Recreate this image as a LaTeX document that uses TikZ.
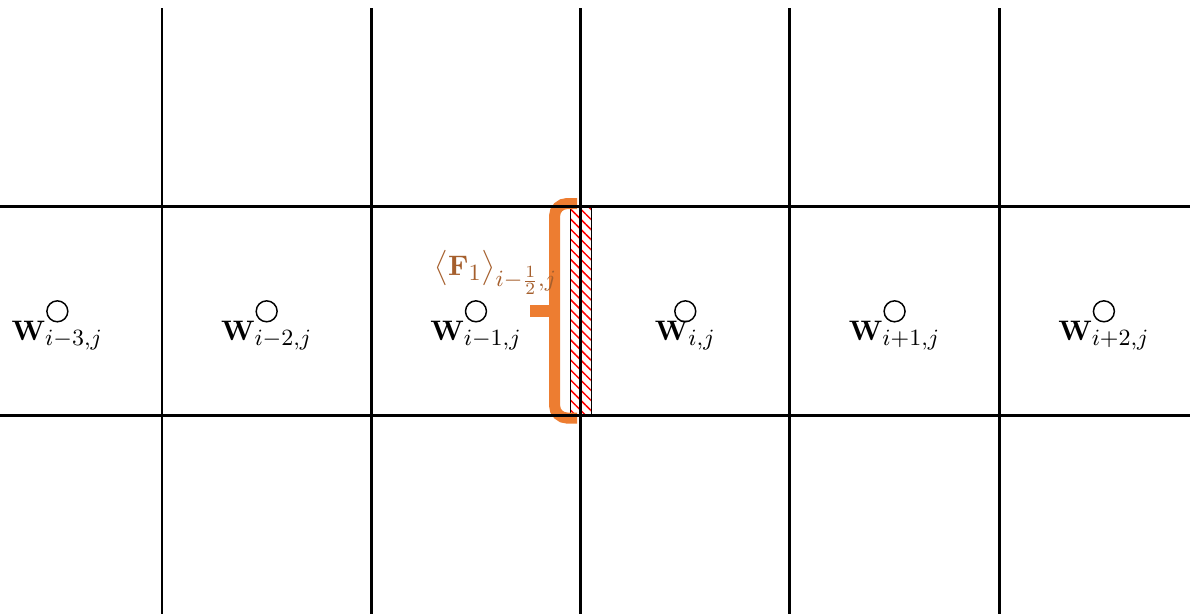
\documentclass[tikz,border=0pt]{standalone}
\usepackage{fix-cm}
\usepackage{tikz}
\usetikzlibrary{positioning, patterns.meta, calc}
\usepackage{amsmath}
\usepackage{bm}
\DeclareMathSizes{11.5}{11.5}{9.5}{7}
\definecolor{braceorange}{RGB}{237,125,49}
\definecolor{fluxbrown}{RGB}{165,95,45}

\begin{document}
\begin{tikzpicture}[font=\fontsize{11.5}{14}\selectfont]
    \useasboundingbox (-2.322,-2.838) rectangle (14.734,5.962);
    % hatched interface between cells i-1 and i
    \node[draw, thin, rectangle, minimum width=0.3cm, minimum height=3cm, inner sep=0pt, pattern={Lines[angle=-45, distance=2.9pt, line width=0.6pt]}, pattern color=red] (face) at (6,1.5) {};
    % flux bracket
    \coordinate (btop) at (5.95,3.045);
    \coordinate (bbot) at (5.95,-0.03);
    \coordinate (bmid) at (5.626,1.505);
    \coordinate (btip) at (5.274,1.505);
    \draw[braceorange, line width=4.5pt, rounded corners=0.18cm] (btop) -| (bmid) |- (bbot);
    \draw[braceorange, line width=4.9pt] (bmid) -- (btip);
    \node[text=fluxbrown, inner sep=0pt, anchor=base east] (flux) at (5.67,2.02) {$\big\langle\mathbf{F}_1\big\rangle_{i-\frac{1}{2},j}$};
    % grid
    \draw[very thick] (-2.322,0) -- (14.734,0);
    \draw[very thick] (-2.322,3) -- (14.734,3);
    \draw[very thick] (0,-2.838) -- (0,5.848);
    \draw[very thick] (3,-2.838) -- (3,5.848);
    \draw[very thick] (6,-2.838) -- (6,5.848);
    \draw[very thick] (9,-2.838) -- (9,5.848);
    \draw[very thick] (12,-2.838) -- (12,5.848);
    % cell centres
    \node[draw, semithick, circle, minimum size=0.3cm, inner sep=0pt] (c1) at (-1.5,1.5) {};
    \node[draw, semithick, circle, minimum size=0.3cm, inner sep=0pt] (c2) at (1.5,1.5) {};
    \node[draw, semithick, circle, minimum size=0.3cm, inner sep=0pt] (c3) at (4.5,1.5) {};
    \node[draw, semithick, circle, minimum size=0.3cm, inner sep=0pt] (c4) at (7.5,1.5) {};
    \node[draw, semithick, circle, minimum size=0.3cm, inner sep=0pt] (c5) at (10.5,1.5) {};
    \node[draw, semithick, circle, minimum size=0.3cm, inner sep=0pt] (c6) at (13.5,1.5) {};
    \node[inner sep=0pt, below=-0.03cm of c1] (w1) {$\mathbf{W}_{i-3,j}$};
    \node[inner sep=0pt, below=-0.03cm of c2] (w2) {$\mathbf{W}_{i-2,j}$};
    \node[inner sep=0pt, below=-0.03cm of c3] (w3) {$\mathbf{W}_{i-1,j}$};
    \node[inner sep=0pt, below=-0.03cm of c4] (w4) {$\mathbf{W}_{i,j}$};
    \node[inner sep=0pt, below=-0.03cm of c5] (w5) {$\mathbf{W}_{i+1,j}$};
    \node[inner sep=0pt, below=-0.03cm of c6] (w6) {$\mathbf{W}_{i+2,j}$};
\end{tikzpicture}
\end{document}
